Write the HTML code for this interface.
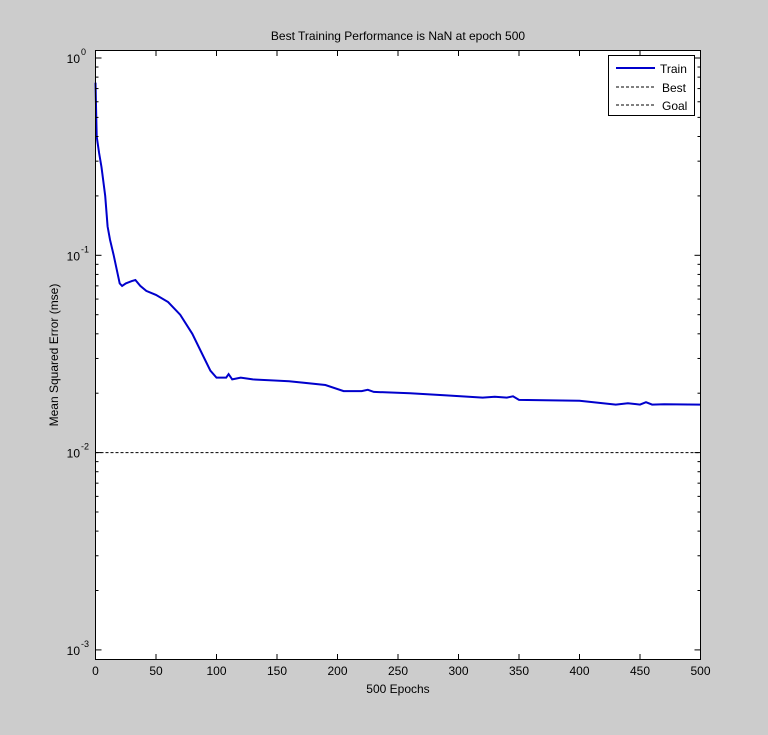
<!DOCTYPE html>
<html><head><meta charset="utf-8"><style>
body{margin:0;background:#cccccc;}
svg{display:block;font-family:"Liberation Sans",sans-serif;}
</style></head><body>
<svg id="chart" width="768" height="735" viewBox="0 0 768 735" xmlns="http://www.w3.org/2000/svg">
<rect x="0" y="0" width="768" height="735" fill="#cccccc"/>
<rect x="95.5" y="50.5" width="605" height="609" fill="#ffffff"/>
<g id="grid"></g>
<g id="series"></g>
<rect x="95.5" y="50.5" width="605" height="609" fill="none" stroke="#000" stroke-width="1"/>
<g id="ticks"></g>
<text x="398" y="40" font-size="12" text-anchor="middle">Best Training Performance is NaN at epoch 500</text>
<text x="398" y="693" font-size="12" text-anchor="middle">500 Epochs</text>
<text x="58" y="355" font-size="12" text-anchor="middle" transform="rotate(-90 58 355)">Mean Squared Error  (mse)</text>
<g>
<rect x="608.5" y="55.5" width="86" height="60" fill="#fff" stroke="#000"/>
<line x1="616" y1="68" x2="655" y2="68" stroke="#0000cc" stroke-width="2"/>
<text x="660" y="73" font-size="12">Train</text>
<line x1="616" y1="87" x2="655" y2="87" stroke="#000" stroke-dasharray="3,2"/>
<text x="662" y="92" font-size="12">Best</text>
<line x1="616" y1="105" x2="655" y2="105" stroke="#000" stroke-dasharray="3,2"/>
<text x="662" y="110" font-size="12">Goal</text>
</g>
</svg>
<script>
const epochs=[0,1,3,5,8,10,12,15,20,22,25,30,33,37,42,50,60,70,80,90,95,100,108,110,113,120,130,160,190,205,220,225,230,260,290,320,330,340,345,350,400,430,440,450,455,460,470,500];
const trainMse=[0.75,0.4,0.33,0.28,0.2,0.14,0.12,0.1,0.072,0.07,0.072,0.074,0.075,0.07,0.066,0.063,0.058,0.05,0.04,0.03,0.026,0.024,0.024,0.025,0.0235,0.024,0.0235,0.023,0.022,0.0205,0.0205,0.0208,0.0203,0.02,0.0195,0.019,0.0192,0.019,0.0193,0.0185,0.0183,0.0175,0.0178,0.0175,0.018,0.0175,0.0176,0.0175];
const goalValue=0.01;
const xTicks=[0,50,100,150,200,250,300,350,400,450,500];
const yDecades=[-3,-2,-1,0];
const yTickLabels=["10","10","10","10"];
const NS="http://www.w3.org/2000/svg";
const X0=95.5,X1=700.5,Xmax=500;
const Ytop=58,perDec=197.3;
function xs(e){return X0+(X1-X0)*e/Xmax;}
function ys(v){return Ytop-Math.log10(v)*perDec;}
function mk(t,a,p){const e=document.createElementNS(NS,t);for(const k in a)e.setAttribute(k,a[k]);p.appendChild(e);return e;}
const ser=document.getElementById('series'),tk=document.getElementById('ticks');
const goal=mk('line',{x1:X0,x2:X1,y1:ys(goalValue),y2:ys(goalValue),stroke:'#000','stroke-dasharray':'3,2'},ser);


const pts=epochs.map((e,i)=>xs(e).toFixed(1)+','+ys(trainMse[i]).toFixed(1)).join(' ');
const pl=mk('polyline',{points:pts,fill:'none',stroke:'#0000cc','stroke-width':2},ser);


xTicks.forEach(t=>{const x=xs(t);
mk('line',{x1:x,x2:x,y1:659.5,y2:654,stroke:'#000'},tk);
mk('line',{x1:x,x2:x,y1:50.5,y2:56,stroke:'#000'},tk);
const tx=mk('text',{x:x,y:675,'font-size':12,'text-anchor':'middle'},tk);tx.textContent=t;

});
yDecades.forEach((d,i)=>{const y=ys(Math.pow(10,d));
mk('line',{x1:X0,x2:X0+6,y1:y,y2:y,stroke:'#000'},tk);
mk('line',{x1:X1,x2:X1-6,y1:y,y2:y,stroke:'#000'},tk);
const tx=mk('text',{x:80,y:y+5,'font-size':12,'text-anchor':'end'},tk);tx.textContent=yTickLabels[i];


const sp=mk('text',{x:81,y:y-3,'font-size':9},tk);sp.textContent=String(d);
for(let m=2;m<10;m++){const v=m*Math.pow(10,d);const yy=ys(v);if(yy<50.5||d===0)continue;
mk('line',{x1:X0,x2:X0+3,y1:yy,y2:yy,stroke:'#000'},tk);
mk('line',{x1:X1,x2:X1-3,y1:yy,y2:yy,stroke:'#000'},tk);}
});
</script>
</body></html>
